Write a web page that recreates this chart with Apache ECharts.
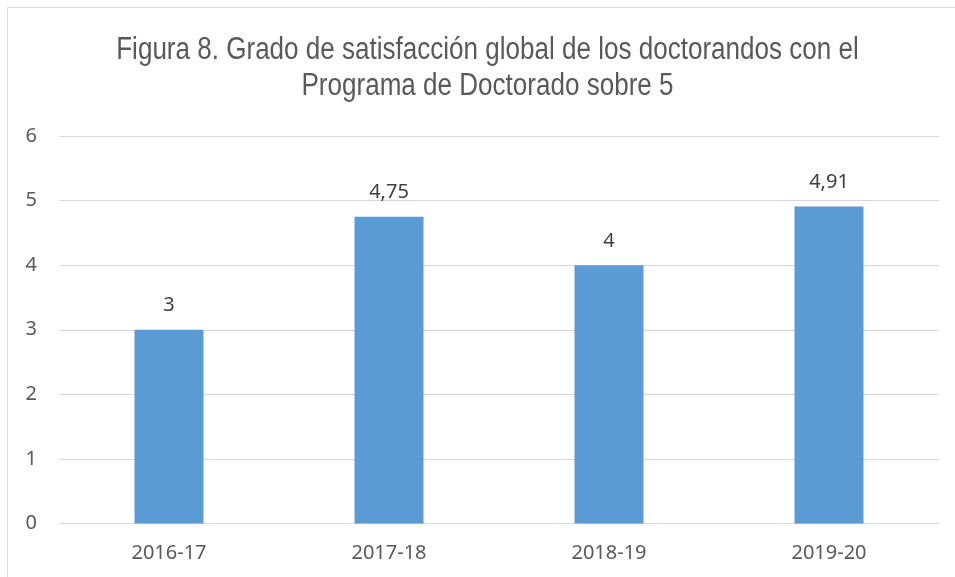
<!DOCTYPE html>
<html>
<head>
<meta charset="utf-8">
<script src="https://cdn.jsdelivr.net/npm/echarts@6/dist/echarts.min.js"></script>
<style>html,body{margin:0;padding:0;background:#fff;}#c{width:955px;height:577px;}</style>
</head>
<body>
<div id="c"></div>
<script>
const titleLines = ['Figura 8. Grado de satisfacción global de los doctorandos con el', 'Programa de Doctorado sobre 5'];
const categories = ['2016-17', '2017-18', '2018-19', '2019-20'];
const values = [3, 4.75, 4, 4.91];
const yTicks = { min: 0, max: 6, interval: 1 };

const chart = echarts.init(document.getElementById('c'), null, { renderer: 'canvas' });
const numFont = '"Noto Sans", "Open Sans", sans-serif';
const titleStyle = {
  fontFamily: '"Liberation Sans", Arial, sans-serif',
  fontSize: 31, fill: '#595959', align: 'center', verticalAlign: 'middle'
};
chart.setOption({
  animation: false,
  backgroundColor: '#ffffff',
  graphic: [{
    type: 'rect', silent: true,
    shape: { x: 7.5, y: 7.5, width: 1000, height: 1000 },
    style: { fill: 'none', stroke: '#d9d9d9', lineWidth: 1 }
  }, {
    type: 'text', silent: true, x: 487.5, y: 50, scaleX: 0.84,
    style: Object.assign({ text: titleLines[0] }, titleStyle)
  }, {
    type: 'text', silent: true, x: 487.5, y: 86, scaleX: 0.84,
    style: Object.assign({ text: titleLines[1] }, titleStyle)
  }],
  grid: { left: 59, right: 16, top: 136, bottom: 53.5 },
  xAxis: {
    type: 'category', data: categories,
    axisLine: { show: true, lineStyle: { color: '#d9d9d9', width: 1 } },
    axisTick: { show: false },
    axisLabel: { color: '#595959', fontFamily: numFont, fontSize: 20, margin: 20 }
  },
  yAxis: {
    type: 'value', min: yTicks.min, max: yTicks.max, interval: yTicks.interval,
    axisLine: { show: false }, axisTick: { show: false },
    splitLine: { lineStyle: { color: '#d9d9d9', width: 1 } },
    axisLabel: { color: '#595959', fontFamily: numFont, fontSize: 20, margin: 22 }
  },
  series: [{
    type: 'bar', data: values, barWidth: 69,
    itemStyle: { color: '#5b9bd5' },
    label: {
      show: true, position: 'top', distance: 14,
      color: '#404040', fontFamily: numFont, fontSize: 20,
      formatter: p => String(p.value).replace('.', ',')
    }
  }]
});
</script>
</body>
</html>
